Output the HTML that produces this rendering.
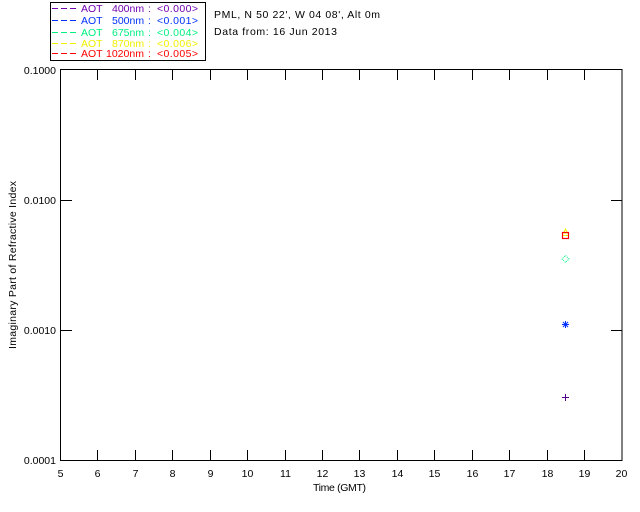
<!DOCTYPE html>
<html><head><meta charset="utf-8">
<style>
html,body{margin:0;padding:0;background:#fff;}
svg{display:block;}
text{font-family:"Liberation Sans",Arial,sans-serif;font-size:10.5px;}
</style></head>
<body>
<svg width="640" height="512" viewBox="0 0 640 512" xmlns="http://www.w3.org/2000/svg">
<rect width="640" height="512" fill="#fff"/>
<!-- legend box -->
<rect x="50.5" y="2.5" width="155" height="58" fill="none" stroke="#000" stroke-width="1"/>
<g stroke-width="1" stroke-dasharray="6,3">
<line x1="52" y1="8.5" x2="77" y2="8.5" stroke="#7000b0"/>
<line x1="52" y1="20.5" x2="77" y2="20.5" stroke="#0030ff"/>
<line x1="52" y1="32.5" x2="77" y2="32.5" stroke="#00f080"/>
<line x1="52" y1="43.5" x2="77" y2="43.5" stroke="#f0f000"/>
<line x1="52" y1="53.5" x2="77" y2="53.5" stroke="#ff0000"/>
</g>
<g>
<text x="81" y="12" fill="#7000b0">AOT</text><text x="112" y="12" fill="#7000b0">400nm</text><text x="148" y="12" fill="#7000b0">:</text><text x="157" y="12" fill="#7000b0" textLength="41">&lt;0.000&gt;</text>
<text x="81" y="24" fill="#0030ff">AOT</text><text x="112" y="24" fill="#0030ff">500nm</text><text x="148" y="24" fill="#0030ff">:</text><text x="157" y="24" fill="#0030ff" textLength="41">&lt;0.001&gt;</text>
<text x="81" y="36" fill="#00f080">AOT</text><text x="112" y="36" fill="#00f080">675nm</text><text x="148" y="36" fill="#00f080">:</text><text x="157" y="36" fill="#00f080" textLength="41">&lt;0.004&gt;</text>
<text x="81" y="47" fill="#f0f000">AOT</text><text x="112" y="47" fill="#f0f000">870nm</text><text x="148" y="47" fill="#f0f000">:</text><text x="157" y="47" fill="#f0f000" textLength="41">&lt;0.006&gt;</text>
<text x="81" y="57" fill="#ff0000">AOT</text><text x="106" y="57" fill="#ff0000">1020nm</text><text x="148" y="57" fill="#ff0000">:</text><text x="157" y="57" fill="#ff0000" textLength="41">&lt;0.005&gt;</text>
</g>
<text x="214" y="18" fill="#000" textLength="166">PML, N 50 22', W 04 08', Alt 0m</text>
<text x="214" y="35" fill="#000" textLength="123">Data from: 16 Jun 2013</text>
<!-- plot box -->
<rect x="60.5" y="69.5" width="561.5" height="391" fill="none" stroke="#000" stroke-width="1"/>
<g stroke="#000" stroke-width="1">
<!-- x ticks bottom and top -->
<line x1="97.5" y1="460" x2="97.5" y2="450"/><line x1="97.5" y1="70" x2="97.5" y2="80"/>
<line x1="135.5" y1="460" x2="135.5" y2="450"/><line x1="135.5" y1="70" x2="135.5" y2="80"/>
<line x1="172.5" y1="460" x2="172.5" y2="450"/><line x1="172.5" y1="70" x2="172.5" y2="80"/>
<line x1="210.5" y1="460" x2="210.5" y2="450"/><line x1="210.5" y1="70" x2="210.5" y2="80"/>
<line x1="247.5" y1="460" x2="247.5" y2="450"/><line x1="247.5" y1="70" x2="247.5" y2="80"/>
<line x1="285.5" y1="460" x2="285.5" y2="450"/><line x1="285.5" y1="70" x2="285.5" y2="80"/>
<line x1="322.5" y1="460" x2="322.5" y2="450"/><line x1="322.5" y1="70" x2="322.5" y2="80"/>
<line x1="359.5" y1="460" x2="359.5" y2="450"/><line x1="359.5" y1="70" x2="359.5" y2="80"/>
<line x1="397.5" y1="460" x2="397.5" y2="450"/><line x1="397.5" y1="70" x2="397.5" y2="80"/>
<line x1="434.5" y1="460" x2="434.5" y2="450"/><line x1="434.5" y1="70" x2="434.5" y2="80"/>
<line x1="472.5" y1="460" x2="472.5" y2="450"/><line x1="472.5" y1="70" x2="472.5" y2="80"/>
<line x1="509.5" y1="460" x2="509.5" y2="450"/><line x1="509.5" y1="70" x2="509.5" y2="80"/>
<line x1="547.5" y1="460" x2="547.5" y2="450"/><line x1="547.5" y1="70" x2="547.5" y2="80"/>
<line x1="584.5" y1="460" x2="584.5" y2="450"/><line x1="584.5" y1="70" x2="584.5" y2="80"/>
<!-- y ticks -->
<line x1="61" y1="200.5" x2="72" y2="200.5"/><line x1="622" y1="200.5" x2="611" y2="200.5"/>
<line x1="61" y1="330.5" x2="72" y2="330.5"/><line x1="622" y1="330.5" x2="611" y2="330.5"/>
</g>
<!-- y labels -->
<g text-anchor="end" fill="#000">
<text x="56" y="74">0.1000</text>
<text x="56" y="204">0.0100</text>
<text x="56" y="334">0.0010</text>
<text x="56" y="464">0.0001</text>
</g>
<text transform="translate(16,265) rotate(-90)" text-anchor="middle" fill="#000" textLength="168">Imaginary Part of Refractive Index</text>
<!-- x labels -->
<g text-anchor="middle" fill="#000">
<text x="60.5" y="477">5</text>
<text x="97.5" y="477">6</text>
<text x="135.5" y="477">7</text>
<text x="172.5" y="477">8</text>
<text x="210.5" y="477">9</text>
<text x="247.5" y="477">10</text>
<text x="285.5" y="477">11</text>
<text x="322.5" y="477">12</text>
<text x="359.5" y="477">13</text>
<text x="397.5" y="477">14</text>
<text x="434.5" y="477">15</text>
<text x="472.5" y="477">16</text>
<text x="509.5" y="477">17</text>
<text x="547.5" y="477">18</text>
<text x="584.5" y="477">19</text>
<text x="621.5" y="477">20</text>
</g>
<text x="313" y="491" fill="#000" textLength="53">Time (GMT)</text>
<!-- markers at t=18.5 -->
<g stroke-width="1" fill="none">
<path d="M565.5,229 L563.5,233 L567.5,233 Z" stroke="#f0f000"/>
<line x1="563" y1="235.5" x2="568" y2="235.5" stroke="#f0f000"/>
<rect x="562.5" y="232.5" width="6" height="6" stroke="#ff0000" stroke-width="1.2"/>
<path d="M565.5,255.5 L569,259 L565.5,262.5 L562,259 Z" stroke="#00f080" stroke-dasharray="1,1"/>
<g stroke="#0030ff">
<line x1="562" y1="324.5" x2="569" y2="324.5"/>
<line x1="565.5" y1="321" x2="565.5" y2="328"/>
<line x1="563" y1="322" x2="568" y2="327"/>
<line x1="568" y1="322" x2="563" y2="327"/>
</g>
<g stroke="#500090">
<line x1="562" y1="397.5" x2="569" y2="397.5"/>
<line x1="565.5" y1="394" x2="565.5" y2="401"/>
</g>
</g>
</svg>
</body></html>
